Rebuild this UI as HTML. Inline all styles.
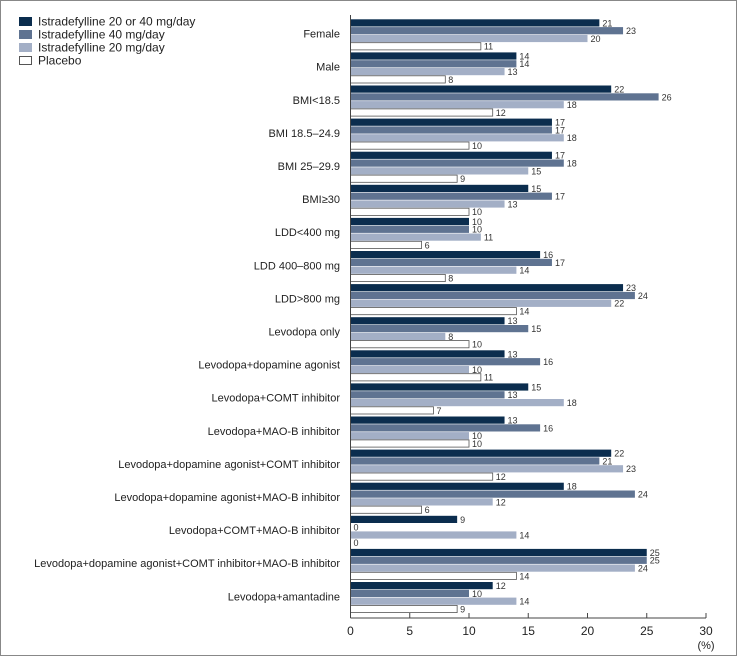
<!DOCTYPE html>
<html><head><meta charset="utf-8"><style>
body{margin:0;background:#fff;}
svg{display:block;font-family:"Liberation Sans",Arial,sans-serif;}
</style></head><body>
<svg id="c" width="737" height="656">
<rect x="0.5" y="0.5" width="736" height="655" fill="#fff" stroke="#888"/>
<g id="legend"></g>
<g id="plot"></g>
</svg>
<script>
const categories=["Female","Male","BMI<18.5","BMI 18.5–24.9","BMI 25–29.9","BMI≥30","LDD<400 mg","LDD 400–800 mg","LDD>800 mg","Levodopa only","Levodopa+dopamine agonist","Levodopa+COMT inhibitor","Levodopa+MAO-B inhibitor","Levodopa+dopamine agonist+COMT inhibitor","Levodopa+dopamine agonist+MAO-B inhibitor","Levodopa+COMT+MAO-B inhibitor","Levodopa+dopamine agonist+COMT inhibitor+MAO-B inhibitor","Levodopa+amantadine"];
const s2040=[21,14,22,17,17,15,10,16,23,13,13,15,13,22,18,9,25,12];
const s40=[23,14,26,17,18,17,10,17,24,15,16,13,16,21,24,0,25,10];
const s20=[20,13,18,18,15,13,11,14,22,8,10,18,10,23,12,14,24,14];
const placebo=[11,8,12,10,9,10,6,8,14,10,11,7,10,12,6,0,14,9];
const seriesNames=["Istradefylline 20 or 40 mg/day","Istradefylline 40 mg/day","Istradefylline 20 mg/day","Placebo"];
const ticks=[0,5,10,15,20,25,30];
const series=[s2040,s40,s20,placebo];
const fills=["#0b2d4e","#5f7391","#a3afc6","#ffffff"];
const NS="http://www.w3.org/2000/svg";
const X0=350.5,X1=706,XMAX=30,Y0=19,GH=33.1,BH=7.8,AXY=618;
const x=v=>X0+(X1-X0)*v/XMAX;
const y=(i,j)=>Y0+i*GH+j*BH;
function mk(t,a,p){const e=document.createElementNS(NS,t);for(const k in a)e.setAttribute(k,a[k]);(p||document.getElementById('plot')).appendChild(e);return e;}
const lg=document.getElementById('legend');
seriesNames.forEach((n,j)=>{
 const r=mk('rect',{x:19.5,y:17.5+j*13,width:12,height:8,fill:fills[j],stroke:j==3?'#555':fills[j]},lg);
 
 
 const t=mk('text',{x:38,y:25.5+j*13,'font-size':12,fill:'#222'},lg);t.textContent=n;
 
 
});
categories.forEach((c,i)=>{
 const t=mk('text',{x:340,y:y(i,2)+3,'text-anchor':'end','font-size':11,fill:'#222'});t.textContent=c;
 
 
 series.forEach((s,j)=>{
  const v=s[i];
  const r=mk('rect',{x:X0,y:y(i,j)+0.3,width:Math.max(0,x(v)-X0),height:BH-0.6,fill:fills[j],stroke:j==3?'#555':'none','stroke-width':0.8});
  
  
  const l=mk('text',{x:x(v)+3,y:y(i,j)+BH-0.5,'font-size':9,fill:'#333'});l.textContent=v;
  
  
 });
});
const ya=mk('line',{x1:X0,x2:X0,y1:15,y2:AXY,stroke:'#444'});


const xa=mk('line',{x1:X0,x2:X1,y1:AXY,y2:AXY,stroke:'#444'});


ticks.forEach(v=>{
 const tk=mk('line',{x1:x(v),x2:x(v),y1:AXY-5,y2:AXY,stroke:'#444'});
 
 
 const t=mk('text',{x:x(v),y:AXY+17,'text-anchor':'middle','font-size':12,fill:'#222'});t.textContent=v;
 
 
});
const u=mk('text',{x:X1,y:AXY+31,'text-anchor':'middle','font-size':11,fill:'#222'});u.textContent='(%)';


</script>
</body></html>
